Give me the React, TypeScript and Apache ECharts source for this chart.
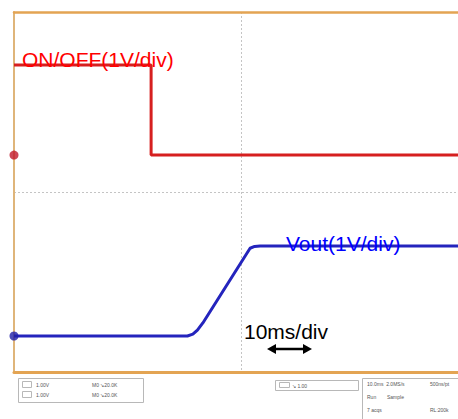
import React, { useEffect, useRef } from "react";
import * as echarts from "echarts";

// Time in ms (10 ms/div), voltages in V (1 V/div)
const redTimeMs = [0, 30.2, 30.2, 97.8];
const redVolts = [2, 2, 0, 0];
const blueTimeMs = [0, 38.2, 39.4, 40.4, 41.6, 52.0, 53.0, 54.2, 97.8];
const blueVolts = [0, 0, 0.04, 0.13, 0.29, 1.95, 1.99, 2, 2];

const RED_OFFSET_DIV = 4.82;
const BLUE_OFFSET_DIV = 0.8;
const X_MAX_MS = 97.8;
const Y_DIVS = 8;

const FONT = "'Liberation Sans', Arial, sans-serif";

export default function App() {
  const ref = useRef<HTMLDivElement>(null);
  useEffect(() => {
    if (!ref.current) return;
    const chart = echarts.init(ref.current, null, { renderer: "svg" });
    const red = redTimeMs.map((t, i) => [t, redVolts[i] + RED_OFFSET_DIV]);
    const blue = blueTimeMs.map((t, i) => [t, blueVolts[i] + BLUE_OFFSET_DIV]);
    const boxStyle = { fill: "#ffffff", stroke: "#b8b8b8", lineWidth: 1 };
    const tiny = (x: number, y: number, text: string) => ({
      type: "text",
      x,
      y,
      style: { text, fontSize: 5, fill: "#555", fontFamily: FONT, verticalAlign: "middle" },
    });
    chart.setOption({
      animation: false,
      backgroundColor: "#ffffff",
      grid: { left: 14, top: 12, right: 0, bottom: 47, containLabel: false },
      xAxis: [
        {
          type: "value",
          min: 0,
          max: X_MAX_MS,
          interval: 50,
          axisLabel: { show: false },
          axisTick: { show: false },
          axisLine: { show: true, onZero: false, lineStyle: { color: "#e3a453", width: 3 } },
          splitLine: { show: true, lineStyle: { color: "#c4c4c4", type: [2, 2], width: 1 } },
        },
        {
          type: "value",
          position: "top",
          min: 0,
          max: X_MAX_MS,
          axisLabel: { show: false },
          axisTick: { show: false },
          axisLine: { show: true, onZero: false, lineStyle: { color: "#e3a453", width: 2.5 } },
          splitLine: { show: false },
        },
      ],
      yAxis: {
        type: "value",
        min: 0,
        max: Y_DIVS,
        interval: 4,
        axisLabel: { show: false },
        axisTick: { show: false },
        axisLine: { show: true, onZero: false, lineStyle: { color: "#dfb57a", width: 2 } },
        splitLine: { show: true, lineStyle: { color: "#c4c4c4", type: [2, 2], width: 1 } },
      },
      series: [
        {
          type: "line",
          data: red,
          showSymbol: false,
          lineStyle: { color: "#d61f1f", width: 3 },
          z: 3,
        },
        {
          type: "line",
          data: blue,
          showSymbol: false,
          lineStyle: { color: "#2424bd", width: 3 },
          z: 3,
        },
        {
          type: "scatter",
          data: [[0, RED_OFFSET_DIV]],
          symbol: "circle",
          symbolSize: 9,
          itemStyle: { color: "#c0182a" },
          clip: false,
          z: 4,
        },
        {
          type: "scatter",
          data: [[0, BLUE_OFFSET_DIV]],
          symbol: "circle",
          symbolSize: 9,
          itemStyle: { color: "#1e1ea8" },
          clip: false,
          z: 4,
        },
      ],
      graphic: [
        {
          type: "text",
          x: 22,
          y: 59,
          z: 10,
          style: {
            text: "ON/OFF(1V/div)",
            fontSize: 21,
            fill: "#ff0000",
            fontFamily: FONT,
            verticalAlign: "middle",
          },
        },
        {
          type: "text",
          x: 286,
          y: 243,
          z: 10,
          style: {
            text: "Vout(1V/div)",
            fontSize: 21,
            fill: "#0000ff",
            fontFamily: FONT,
            verticalAlign: "middle",
          },
        },
        {
          type: "text",
          x: 244,
          y: 331,
          z: 10,
          style: {
            text: "10ms/div",
            fontSize: 21,
            fill: "#000000",
            fontFamily: FONT,
            verticalAlign: "middle",
          },
        },
        {
          type: "line",
          z: 10,
          shape: { x1: 272, y1: 349, x2: 307, y2: 349 },
          style: { stroke: "#000", lineWidth: 2.5 },
        },
        {
          type: "polygon",
          z: 10,
          shape: { points: [[267, 349], [276, 344], [276, 354]] },
          style: { fill: "#000" },
        },
        {
          type: "polygon",
          z: 10,
          shape: { points: [[312, 349], [303, 344], [303, 354]] },
          style: { fill: "#000" },
        },
        // status boxes
        { type: "rect", shape: { x: 18.5, y: 378.5, width: 125, height: 24 }, style: boxStyle },
        { type: "rect", shape: { x: 22.5, y: 381.5, width: 9, height: 6 }, style: boxStyle },
        { type: "rect", shape: { x: 22.5, y: 391.5, width: 9, height: 6 }, style: boxStyle },
        tiny(36, 385, "1.00V"),
        tiny(36, 395, "1.00V"),
        tiny(92, 385, "M0 ↘20.0K"),
        tiny(92, 395, "M0 ↘20.0K"),
        { type: "rect", shape: { x: 275.5, y: 380.5, width: 83, height: 10 }, style: boxStyle },
        { type: "rect", shape: { x: 279.5, y: 382.5, width: 10, height: 5 }, style: boxStyle },
        tiny(292, 385.5, "↘ 1.00"),
        { type: "rect", shape: { x: 362.5, y: 378.5, width: 100, height: 45 }, style: boxStyle },
        tiny(367, 384, "10.0ms  2.0MS/s"),
        tiny(430, 384, "500ns/pt"),
        tiny(367, 397, "Run"),
        tiny(387, 397, "Sample"),
        tiny(367, 410, "7 acqs"),
        tiny(430, 410, "RL:200k"),
      ],
    });
    return () => chart.dispose();
  }, []);
  return (
    <div
      ref={ref}
      style={{ position: "absolute", left: 0, top: 0, width: 458, height: 419 }}
    />
  );
}
